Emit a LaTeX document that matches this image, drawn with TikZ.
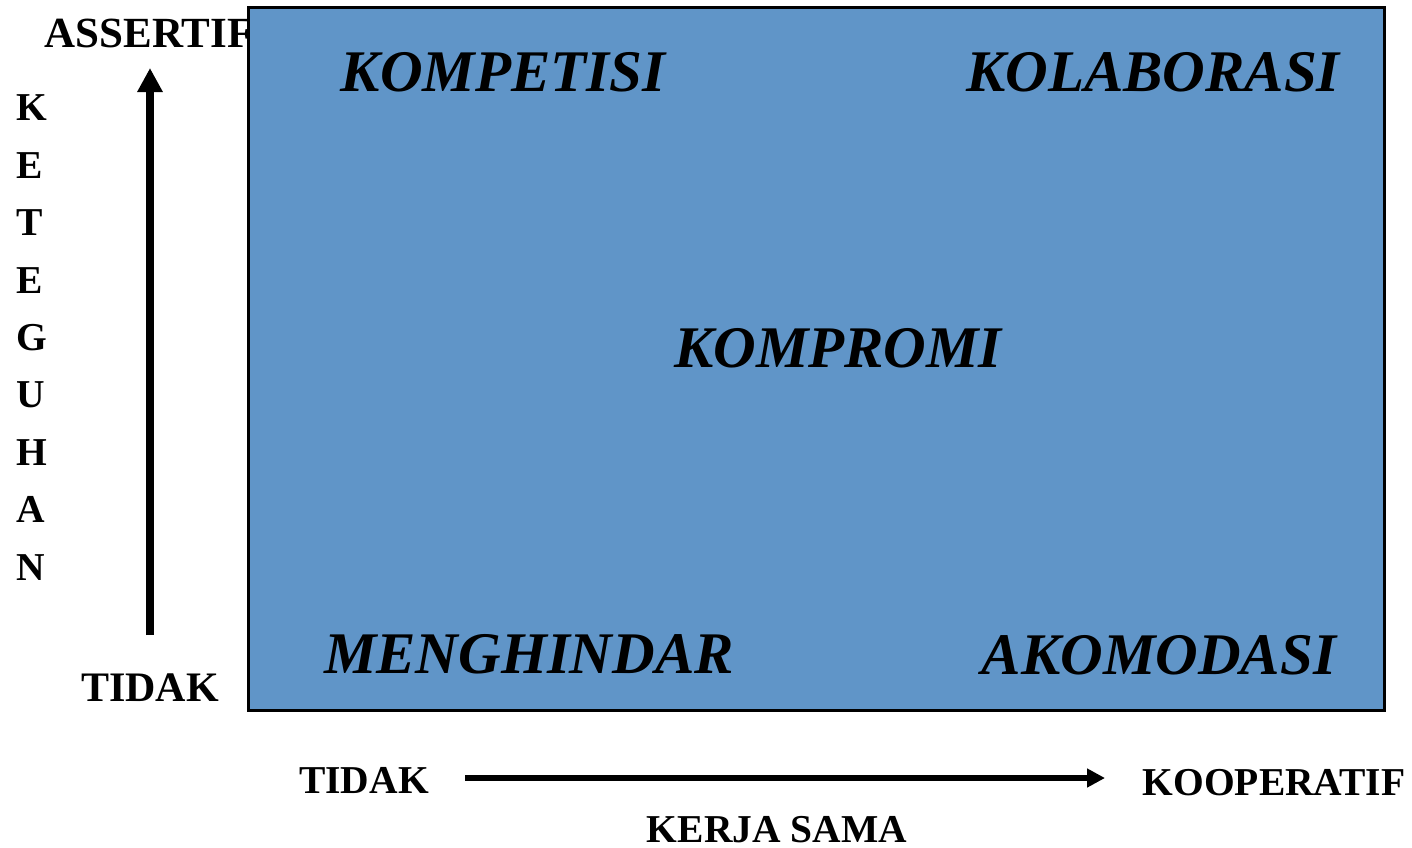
\documentclass[tikz,border=0pt]{standalone}
\usepackage{fontspec}
\setmainfont{Liberation Serif}
\usetikzlibrary{arrows.meta}
\definecolor{panelblue}{RGB}{96,149,200}
\tikzset{
  axislabel/.style={inner sep=0pt, font=\fontsize{39.5}{39.5}\selectfont\bfseries},
  stylelabel/.style={inner sep=0pt, font=\fontsize{59}{59}\selectfont\bfseries\itshape},
  vaxis/.style={line width=8pt, -{Triangle[length=24pt,width=24pt]}},
  haxis/.style={line width=6pt, -{Triangle[length=18pt,width=18pt]}},
}
\begin{document}
\begin{tikzpicture}[x=1pt,y=-1pt]
\useasboundingbox (0,0) rectangle (1412,847);
% label of the vertical axis, partly behind the panel
\node[axislabel, font=\fontsize{43}{43}\selectfont\bfseries] (assertif) at (149,33) {ASSERTIF};
% panel with the five conflict styles
\node[draw=black, line width=2.5pt, fill=panelblue, minimum width=1136pt, minimum height=703pt, inner sep=0pt] (panel) at (816.5,359) {};
\node[stylelabel] (kompetisi) at (503,72) {KOMPETISI};
\node[stylelabel] (kolaborasi) at (1153,72) {KOLABORASI};
\node[stylelabel] (kompromi) at (838,348) {KOMPROMI};
\node[stylelabel] (menghindar) at (529,654) {MENGHINDAR};
\node[stylelabel] (akomodasi) at (1159,655) {AKOMODASI};
% vertical axis: keteguhan
\foreach \l [count=\i] in {K,E,T,E,G,U,H,A,N}
  \node[axislabel, anchor=west] (v\i) at (16,{108+57.4*(\i-1)}) {\l};
\node[axislabel, font=\fontsize{42}{42}\selectfont\bfseries] (tidakv) at (150,688) {TIDAK};
\coordinate (vstart) at (150,635);
\coordinate (vend) at (150,68);
\draw[vaxis] (vstart) -- (vend);
% horizontal axis: kerja sama
\node[axislabel] (tidakh) at (364,780) {TIDAK};
\node[axislabel] (koop) at (1274,783) {KOOPERATIF};
\node[axislabel] (kerjasama) at (777,830) {KERJA SAMA};
\coordinate (hstart) at (465,778);
\coordinate (hend) at (1105,778);
\draw[haxis] (hstart) -- (hend);
\end{tikzpicture}
\end{document}
